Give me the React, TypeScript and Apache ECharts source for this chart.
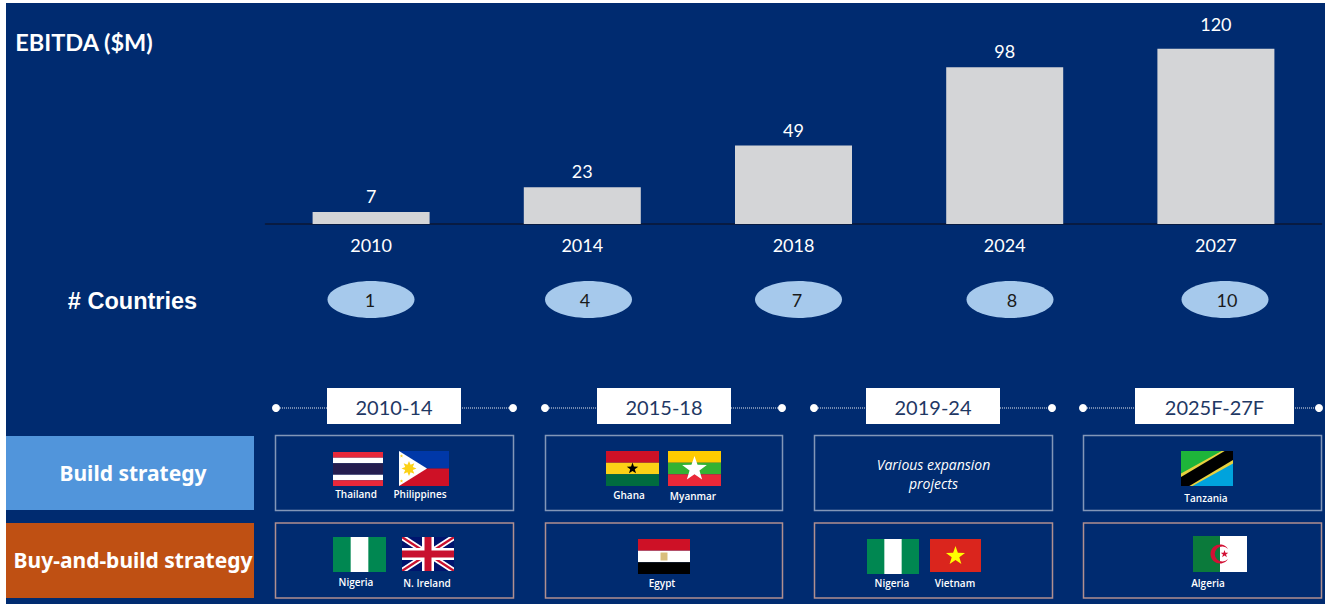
import React, { useEffect, useRef } from "react";
import * as echarts from "echarts";

// ---- values ----
const years = ["2010", "2014", "2018", "2024", "2027"];
const ebitdaLabels = ["7", "23", "49", "98", "120"];
// Bar lengths as drawn in the reference (its last bar is not to scale with its label).
const barLengths = [7.5, 23, 49, 98, 109.5];
const countryCounts = ["1", "4", "7", "8", "10"];
const periods = ["2010-14", "2015-18", "2019-24", "2025F-27F"];
const strategies = ["Build strategy", "Buy-and-build strategy"];
const expansionNote = "Various expansion\nprojects";

// ---- layout ----
const NAVY = "#002B70";
const CALIBRI = "Lato, Carlito, sans-serif";
const ARIAL = "'Liberation Sans', Arial, sans-serif";
const SANS = "'Open Sans', sans-serif";
const labelGaps = [7, 7, 7, 7, 16];
const ovalCentres = [371, 588.5, 798.5, 1010, 1225];
const ovalTextX = [370, 585, 797, 1012, 1227];
const colBoxes = [[275, 514], [545, 783], [814, 1053], [1083, 1322]];
const periodBoxes = [[327, 461], [597, 731], [866, 1000], [1135, 1294]];
const dots = [[276, 513], [545, 782], [814, 1052], [1083, 1319]];

type FlagPlace = { f: string; n: string; x: number; y: number; w: number; h: number; lx: number; ly: number };
const flagPlaces: FlagPlace[] = [
  { f: "th", n: "Thailand", x: 333, y: 452, w: 50, h: 34, lx: 356, ly: 494 },
  { f: "ph", n: "Philippines", x: 399, y: 451, w: 50, h: 35, lx: 420, ly: 494 },
  { f: "ng", n: "Nigeria", x: 333, y: 537, w: 53, h: 35, lx: 356, ly: 582 },
  { f: "uk", n: "N. Ireland", x: 402, y: 537, w: 52, h: 34, lx: 427, ly: 583 },
  { f: "gh", n: "Ghana", x: 606, y: 451, w: 53, h: 35, lx: 629, ly: 495 },
  { f: "mm", n: "Myanmar", x: 668, y: 451, w: 53, h: 35, lx: 693, ly: 496 },
  { f: "eg", n: "Egypt", x: 638, y: 539, w: 52, h: 35, lx: 662, ly: 583 },
  { f: "ng", n: "Nigeria", x: 867, y: 539, w: 52, h: 35, lx: 892, ly: 583 },
  { f: "vn", n: "Vietnam", x: 930, y: 539, w: 51, h: 33, lx: 955, ly: 583 },
  { f: "tz", n: "Tanzania", x: 1181, y: 451, w: 52, h: 35, lx: 1206, ly: 498 },
  { f: "dz", n: "Algeria", x: 1193, y: 536, w: 54, h: 36, lx: 1208, ly: 583 },
];

echarts.graphic.registerShape(
  "crescent",
  echarts.graphic.extendPath("M184.5 46.5A100 100 0 1 0 184.5 153.5A80 80 0 1 1 184.5 46.5Z", {})
);

const rect = (x: number, y: number, w: number, h: number, fill: string, extra: any = {}) => ({
  type: "rect", shape: { x, y, width: w, height: h }, style: { fill }, ...extra,
});
const poly = (points: number[][], fill: string) => ({ type: "polygon", shape: { points }, style: { fill } });
const burst = (cx: number, cy: number, r: number, inner: number, tips: number, fill: string) => {
  const pts: number[][] = [];
  for (let i = 0; i < tips * 2; i++) {
    const rad = i % 2 ? r * inner : r;
    const a = -Math.PI / 2 + (i * Math.PI) / tips;
    pts.push([cx + rad * Math.cos(a), cy + rad * Math.sin(a)]);
  }
  return poly(pts, fill);
};
const star = (cx: number, cy: number, r: number, fill: string) => burst(cx, cy, r, 0.4, 5, fill);
const stripes = (p: FlagPlace, bands: [string, number][]) => {
  const total = bands.reduce((s, b) => s + b[1], 0);
  let y = p.y;
  return bands.map(([c, v]) => {
    const h = (v / total) * p.h;
    const r = rect(p.x, y, p.w, h, c);
    y += h;
    return r;
  });
};

function drawFlag(p: FlagPlace): any[] {
  const { x, y, w, h } = p;
  const cx = x + w / 2;
  const cy = y + h / 2;
  switch (p.f) {
    case "th":
      return stripes(p, [["#E8283A", 1], ["#FFFFFF", 1], ["#241D4F", 2], ["#FFFFFF", 1], ["#E8283A", 1]]);
    case "ph":
      return [
        rect(x, y, w, h / 2, "#0038A8"),
        rect(x, y + h / 2, w, h / 2, "#CE1126"),
        poly([[x, y], [x + w * 0.56, cy], [x, y + h]], "#FFFFFF"),
        burst(x + w * 0.2, cy, 7.5, 0.55, 8, "#FCD116"),
        star(x + w * 0.05, y + 5, 1.8, "#FCD116"),
        star(x + w * 0.05, y + h - 5, 1.8, "#FCD116"),
      ];
    case "ng":
      return [
        rect(x, y, w, h, "#008751"),
        rect(x + w / 3, y, w / 3, h, "#FFFFFF"),
      ];
    case "uk": {
      const t = 3.5;
      return [
        rect(x, y, w, h, "#00146E"),
        poly([[x, y], [x + t * 1.5, y], [x + w, y + h - t], [x + w, y + h], [x + w - t * 1.5, y + h], [x, y + t]], "#FFFFFF"),
        poly([[x + w, y], [x + w, y + t], [x + t * 1.5, y + h], [x, y + h], [x, y + h - t], [x + w - t * 1.5, y]], "#FFFFFF"),
        poly([[x, y], [x + 2, y], [x + w, y + h - 1.5], [x + w, y + h], [x + w - 2, y + h], [x, y + 1.5]], "#C8102E"),
        poly([[x + w, y], [x + w, y + 1.5], [x + 2, y + h], [x, y + h], [x, y + h - 1.5], [x + w - 2, y]], "#C8102E"),
        rect(cx - 6, y, 12, h, "#FFFFFF"),
        rect(x, cy - 6, w, 12, "#FFFFFF"),
        rect(cx - 3.5, y, 7, h, "#C8102E"),
        rect(x, cy - 3.5, w, 7, "#C8102E"),
      ];
    }
    case "gh":
      return [
        ...stripes(p, [["#CE1126", 1], ["#FCD116", 1], ["#006B3F", 1]]),
        star(cx, cy, 6, "#000000"),
      ];
    case "mm":
      return [
        ...stripes(p, [["#FECB00", 1], ["#34B233", 1], ["#EA2839", 1]]),
        star(cx, cy + 0.5, 13, "#FFFFFF"),
      ];
    case "eg":
      return [
        ...stripes(p, [["#CE1126", 1], ["#FFFFFF", 1], ["#000000", 1]]),
        rect(cx - 3.5, cy - 4, 7, 8, "#D9BE7C"),
      ];
    case "vn":
      return [rect(x, y, w, h, "#DA251D"), star(cx, cy + 0.5, 10, "#FFFF00")];
    case "tz": {
      const b = 0.22;
      const yb = 0.36;
      return [
        rect(x, y, w, h, "#00A3DD"),
        poly([[x, y], [x + w, y], [x, y + h]], "#1EB53A"),
        poly([[x, y + h], [x, y + h * (1 - yb)], [x + w * (1 - b), y], [x + w, y], [x + w, y + h * yb], [x + w * b, y + h]], "#E8D13F"),
        poly([[x, y + h], [x, y + h * (1 - yb + 0.1)], [x + w * (1 - b + 0.06), y], [x + w, y], [x + w, y + h * (yb - 0.1)], [x + w * (b - 0.06), y + h]], "#000000"),
      ];
    }
    case "dz":
      return [
        rect(x, y, w / 2, h, "#0B7A3B"),
        rect(cx, y, w / 2, h, "#FFFFFF"),
        { type: "crescent", x: cx - 9.5, y: cy - 9.5, scaleX: 0.095, scaleY: 0.095, style: { fill: "#D21034" } },
        star(cx + 4.5, cy, 4, "#D21034"),
      ];
  }
  return [];
}

function buildGraphics() {
  const els: any[] = [];
  const text = (t: string, x: number, y: number, fontSize: number, fontFamily: string, fill: string, extra: any = {}) => ({
    type: "text", x, y, style: { text: t, fontSize, fontFamily, fill, align: "center", verticalAlign: "middle", ...extra },
  });
  els.push(rect(6, 3, 1319, 601, NAVY, { z: -10 }));
  els.push(text("EBITDA ($M)", 84, 42, 23.5, CALIBRI, "#FFFFFF", { fontWeight: "bold" }));
  els.push(text("# Countries", 132.5, 301, 23.5, ARIAL, "#FFFFFF", { fontWeight: "bold" }));

  countryCounts.forEach((c, i) => {
    els.push({
      type: "ellipse",
      shape: { cx: ovalCentres[i], cy: 299.5, rx: 43.5, ry: 18.5 },
      style: { fill: "#A6C9EC" },
    });
    els.push(text(c, ovalTextX[i], 300, 18, CALIBRI, "#1A1A1A"));
  });

  periods.forEach((pd, i) => {
    const [a, b] = dots[i];
    const [l, r] = periodBoxes[i];
    els.push({
      type: "line", shape: { x1: a, y1: 408, x2: b, y2: 408 },
      style: { stroke: "#FFFFFF", lineWidth: 1.5, lineDash: [1, 1], opacity: 0.6 },
    });
    els.push({ type: "circle", shape: { cx: a, cy: 408, r: 4 }, style: { fill: "#FFFFFF" } });
    els.push({ type: "circle", shape: { cx: b, cy: 408, r: 4 }, style: { fill: "#FFFFFF" } });
    els.push(rect(l, 388, r - l, 36, "#FFFFFF"));
    els.push(text(pd, (l + r) / 2, 407, 20, CALIBRI, "#1F3864"));
    const [bl, br] = colBoxes[i];
    els.push({
      type: "rect", shape: { x: bl + 0.5, y: 435.5, width: br - bl - 1, height: 75 },
      style: { fill: "none", stroke: "#8296B8", lineWidth: 1.5 },
    });
    els.push({
      type: "rect", shape: { x: bl + 0.5, y: 523, width: br - bl - 1, height: 75 },
      style: { fill: "none", stroke: "#B08F8F", lineWidth: 1.5 },
    });
  });

  els.push(rect(6, 436, 248, 74, "#5195DB"));
  els.push(rect(6, 523, 248, 75, "#BF5013"));
  els.push(text(strategies[0], 133, 473, 21, "'Noto Sans', sans-serif", "#FFFFFF", { fontWeight: "bold" }));
  els.push(text(strategies[1], 133, 560, 21, "'Noto Sans', sans-serif", "#FFFFFF", { fontWeight: "bold" }));

  els.push(text(expansionNote, 933.5, 473.5, 14, SANS, "#FFFFFF", { fontStyle: "italic", lineHeight: 19 }));

  flagPlaces.forEach((p) => {
    els.push(...drawFlag(p));
    els.push(text(p.n, p.lx, p.ly, 10, SANS, "#FFFFFF", { fontWeight: 600 }));
  });
  return els;
}

export default function App() {
  const ref = useRef<HTMLDivElement>(null);
  useEffect(() => {
    if (!ref.current) return;
    const chart = echarts.init(ref.current, undefined, { renderer: "svg" });
    chart.setOption({
      animation: false,
      backgroundColor: "#FFFFFF",
      grid: { left: 265.5, right: 3.5, top: 24, height: 200 },
      xAxis: {
        type: "category",
        data: years,
        axisLine: { lineStyle: { color: "#0B1733", width: 1.5 } },
        axisTick: { show: false },
        axisLabel: { color: "#FFFFFF", fontSize: 18, fontFamily: CALIBRI, margin: 12 },
      },
      yAxis: { type: "value", min: 0, max: 125, show: false },
      series: [
        {
          type: "bar",
          data: barLengths.map((v, i) => ({ value: v, label: { distance: labelGaps[i] } })),
          barWidth: 117,
          itemStyle: { color: "#D4D5D7" },
          label: {
            show: true,
            position: "top",
            color: "#FFFFFF",
            fontSize: 18,
            fontFamily: CALIBRI,
            formatter: (p: any) => ebitdaLabels[p.dataIndex],
          },
        },
      ],
      graphic: buildGraphics(),
    });
    return () => chart.dispose();
  }, []);
  return <div ref={ref} style={{ position: "absolute", left: 0, top: 0, width: 1325, height: 604 }} />;
}
